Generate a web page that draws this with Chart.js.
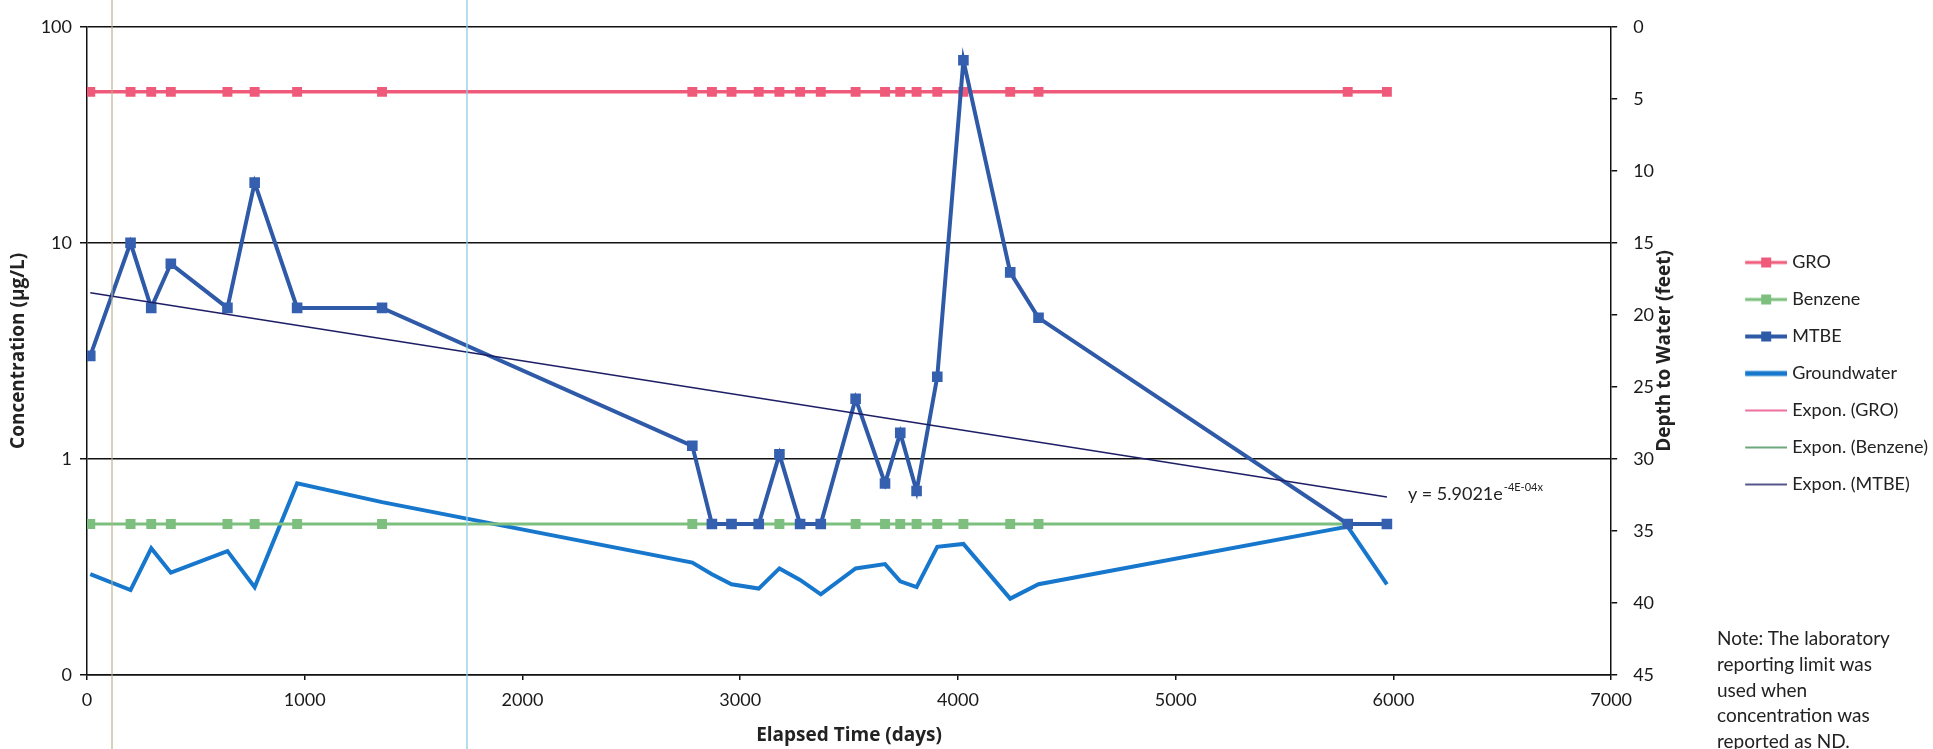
<!DOCTYPE html>
<html>
<head>
<meta charset="utf-8">
<script src="https://cdn.jsdelivr.net/npm/chart.js@4.4.1/dist/chart.umd.min.js"></script>
<style>
  html, body { margin: 0; padding: 0; background: #fff; }
  #wrap { position: relative; width: 1933px; height: 749px; }
  #note { position: absolute; left: 1717px; top: 625px; width: 215px; font: 19px Lato, sans-serif; line-height: 25.8px; color: #222; }
  .scan { position: absolute; top: 0; width: 2px; height: 749px; }
</style>
</head>
<body>
<div id="wrap">
  <canvas id="chart" width="1933" height="749"></canvas>
  <!-- faint scanner streaks visible in the original -->
  <div class="scan" style="left:111px;background:rgba(185,175,135,0.55)"></div>
  <div class="scan" style="left:466px;background:rgba(140,205,230,0.65)"></div>
  <div id="note">Note: The laboratory<br>reporting limit was<br>used when<br>concentration was<br>reported as ND.</div>
</div>
<script>
// sampling events (elapsed days)
const days = [15, 200, 295, 385, 645, 770, 965, 1355, 2780, 2870, 2960, 3085, 3180, 3275, 3370, 3530, 3665, 3735, 3810, 3905, 4025, 4240, 4370, 5790, 5970];

// concentrations (ug/L)
const gro = [50, 50, 50, 50, 50, 50, 50, 50, 50, 50, 50, 50, 50, 50, 50, 50, 50, 50, 50, 50, 50, 50, 50, 50, 50];
const benzene = [0.5, 0.5, 0.5, 0.5, 0.5, 0.5, 0.5, 0.5, 0.5, 0.5, 0.5, 0.5, 0.5, 0.5, 0.5, 0.5, 0.5, 0.5, 0.5, 0.5, 0.5, 0.5, 0.5, 0.5, 0.5];
const mtbe = [3, 10, 5, 8, 5, 19, 5, 5, 1.15, 0.5, 0.5, 0.5, 1.05, 0.5, 0.5, 1.9, 0.77, 1.32, 0.71, 2.4, 70, 7.3, 4.5, 0.5, 0.5];

// depth to water (feet)
const groundwater = [38.0, 39.1, 36.2, 37.9, 36.4, 38.9, 31.7, 33.0, 37.2, 38.0, 38.7, 39.0, 37.6, 38.4, 39.4, 37.6, 37.3, 38.5, 38.9, 36.1, 35.9, 39.7, 38.7, 34.7, 38.7];

// axis ticks
const concTicks = [0.1, 1, 10, 100];
const concTickLabels = ['0', '1', '10', '100'];
const eqMain = 'y = 5.9021e';
const eqSup = '-4E-04x';

const colors = {
  gro: '#ef5a7a',
  benzene: '#7cbf7e',
  mtbe: '#2f5aa8',
  water: '#1677cc',
  groTrend: '#e8407e',
  benzeneTrend: '#3d8a50',
  mtbeTrend: '#1e1e66'
};
const titleFont = { family: '"Open Sans", sans-serif', size: 19, weight: 'bold' };

// exponential trendline, same as Excel "Expon." (least squares on ln y)
function expFit(xs, ys) {
  const n = xs.length;
  const ly = ys.map(Math.log);
  const mx = xs.reduce((a, b) => a + b, 0) / n;
  const my = ly.reduce((a, b) => a + b, 0) / n;
  let sxy = 0, sxx = 0;
  for (let i = 0; i < n; i++) {
    sxy += (xs[i] - mx) * (ly[i] - my);
    sxx += (xs[i] - mx) * (xs[i] - mx);
  }
  const b = sxy / sxx;
  const a = Math.exp(my - b * mx);
  return x => a * Math.exp(b * x);
}

const pts = (ys) => days.map((d, i) => ({ x: days[i], y: ys[i] }));
const trendPts = (f) => [days[0], days[days.length - 1]].map(d => ({ x: d, y: f(d) }));

const groFit = expFit(days, gro);
const benzeneFit = expFit(days, benzene);
const mtbeFit = expFit(days, mtbe);

// legend swatch: line with the marker in the middle, like Excel
function legendIcon(color, width, marker) {
  const c = document.createElement('canvas');
  c.width = 50; c.height = 14;
  const g = c.getContext('2d');
  g.strokeStyle = color;
  g.lineWidth = width;
  g.beginPath(); g.moveTo(8, 7); g.lineTo(50, 7); g.stroke();
  if (marker) { g.fillStyle = color; g.fillRect(24, 2, 10, 10); }
  return c;
}
const icons = [
  legendIcon(colors.gro, 3, true),
  legendIcon(colors.benzene, 3, true),
  legendIcon(colors.mtbe, 4, true),
  legendIcon(colors.water, 5, false),
  legendIcon(colors.groTrend, 1.5, false),
  legendIcon(colors.benzeneTrend, 1.5, false),
  legendIcon(colors.mtbeTrend, 1.5, false)
];

// equation next to the end of the MTBE trendline
const eqLabel = {
  id: 'eqLabel',
  afterDatasetsDraw(chart) {
    const { ctx, scales } = chart;
    const last = days[days.length - 1];
    const px = scales.x.getPixelForValue(last) + 21;
    const py = scales.y.getPixelForValue(mtbeFit(last)) - 3;
    ctx.save();
    ctx.fillStyle = '#222';
    ctx.textBaseline = 'middle';
    ctx.font = '18px Lato';
    ctx.fillText(eqMain, px, py);
    const w = ctx.measureText(eqMain).width;
    ctx.font = '11px Lato';
    ctx.fillText(eqSup, px + w + 1, py - 7);
    ctx.restore();
  }
};

// right axis title reads bottom-to-top like the left one
const depthTitle = {
  id: 'depthTitle',
  afterDraw(chart) {
    const { ctx, chartArea } = chart;
    ctx.save();
    ctx.translate(chartArea.right + 53, (chartArea.top + chartArea.bottom) / 2);
    ctx.rotate(-Math.PI / 2);
    ctx.font = 'bold 19px "Open Sans"';
    ctx.textAlign = 'center';
    ctx.textBaseline = 'middle';
    ctx.fillStyle = '#222';
    ctx.fillText('Depth to Water (feet)', 0, 0);
    ctx.restore();
  }
};

// nudge the legend block to where it sits in the original
const legendNudge = {
  id: 'legendNudge',
  afterLayout(chart) {
    const lg = chart.legend;
    lg.top -= 12; lg.bottom -= 12;
    lg.left += 5; lg.right += 5;
  }
};

Chart.defaults.font.family = 'Lato, sans-serif';
Chart.defaults.color = '#1a1a1a';

new Chart(document.getElementById('chart'), {
  type: 'line',
  data: {
    datasets: [
      { label: 'GRO', data: pts(gro), yAxisID: 'y', order: 1,
        borderColor: colors.gro, backgroundColor: colors.gro, borderWidth: 3.5,
        pointStyle: 'rect', pointRadius: 7, pointBorderWidth: 0 },
      { label: 'Benzene', data: pts(benzene), yAxisID: 'y', order: 2,
        borderColor: colors.benzene, backgroundColor: colors.benzene, borderWidth: 3,
        pointStyle: 'rect', pointRadius: 7, pointBorderWidth: 0 },
      { label: 'MTBE', data: pts(mtbe), yAxisID: 'y', order: 0,
        borderColor: colors.mtbe, backgroundColor: '#3560b0', borderWidth: 4,
        pointStyle: 'rect', pointRadius: 7.5, pointBorderWidth: 0 },
      { label: 'Groundwater', data: pts(groundwater), yAxisID: 'y2', order: 3,
        borderColor: colors.water, borderWidth: 4, pointRadius: 0 },
      { label: 'Expon. (GRO)', data: trendPts(groFit), yAxisID: 'y', order: 4,
        borderColor: colors.groTrend, borderWidth: 1.5, pointRadius: 0 },
      { label: 'Expon. (Benzene)', data: trendPts(benzeneFit), yAxisID: 'y', order: 5,
        borderColor: colors.benzeneTrend, borderWidth: 1.5, pointRadius: 0 },
      { label: 'Expon. (MTBE)', data: trendPts(mtbeFit), yAxisID: 'y', order: -1,
        borderColor: colors.mtbeTrend, borderWidth: 1.5, pointRadius: 0 }
    ]
  },
  options: {
    responsive: false,
    animation: false,
    events: [],
    layout: { padding: { top: 22, right: 0, left: 0, bottom: 0 } },
    plugins: {
      tooltip: { enabled: false },
      legend: {
        position: 'right',
        align: 'center',
        labels: {
          usePointStyle: true,
          pointStyleWidth: 42,
          boxHeight: 14,
          padding: 19,
          color: '#222',
          font: { size: 18 },
          sort: (a, b) => a.datasetIndex - b.datasetIndex,
          generateLabels(chart) {
            const items = Chart.defaults.plugins.legend.labels.generateLabels(chart);
            items.forEach(it => { it.pointStyle = icons[it.datasetIndex]; });
            return items;
          }
        }
      }
    },
    scales: {
      x: {
        type: 'linear',
        min: 0, max: 7000,
        ticks: { stepSize: 1000, padding: 9, font: { size: 18 }, color: '#1a1a1a', callback: (v) => String(v) },
        grid: { drawOnChartArea: false, tickLength: 5, color: '#111', lineWidth: 1.5 },
        border: { color: '#111', width: 1.5 },
        title: { display: true, text: 'Elapsed Time (days)', font: titleFont, color: '#222', padding: { top: 0, bottom: 2 } },
        afterFit(scale) { scale.height = 74; }
      },
      y: {
        type: 'logarithmic',
        position: 'left',
        min: 0.1, max: 100,
        afterBuildTicks(scale) { scale.ticks = concTicks.map(v => ({ value: v })); },
        ticks: {
          padding: 8,
          font: { size: 18 },
          color: '#1a1a1a',
          callback: (v) => concTickLabels[concTicks.indexOf(v)]
        },
        grid: { color: '#111', lineWidth: 1.5, tickLength: 7 },
        border: { color: '#111', width: 1.5 },
        title: { display: true, text: 'Concentration (µg/L)', font: titleFont, color: '#222', padding: { top: 7, bottom: 0 } },
        afterFit(scale) { scale.width = 87; }
      },
      y2: {
        type: 'linear',
        position: 'right',
        reverse: true,
        min: 0, max: 45,
        ticks: { stepSize: 5, padding: 16, font: { size: 18 }, color: '#1a1a1a' },
        grid: { drawOnChartArea: false, tickLength: 6, color: '#111', lineWidth: 1.5 },
        border: { color: '#111', width: 1.5 },
        afterFit(scale) { scale.width = 106; }
      }
    }
  },
  plugins: [eqLabel, depthTitle, legendNudge]
});
</script>
</body>
</html>
